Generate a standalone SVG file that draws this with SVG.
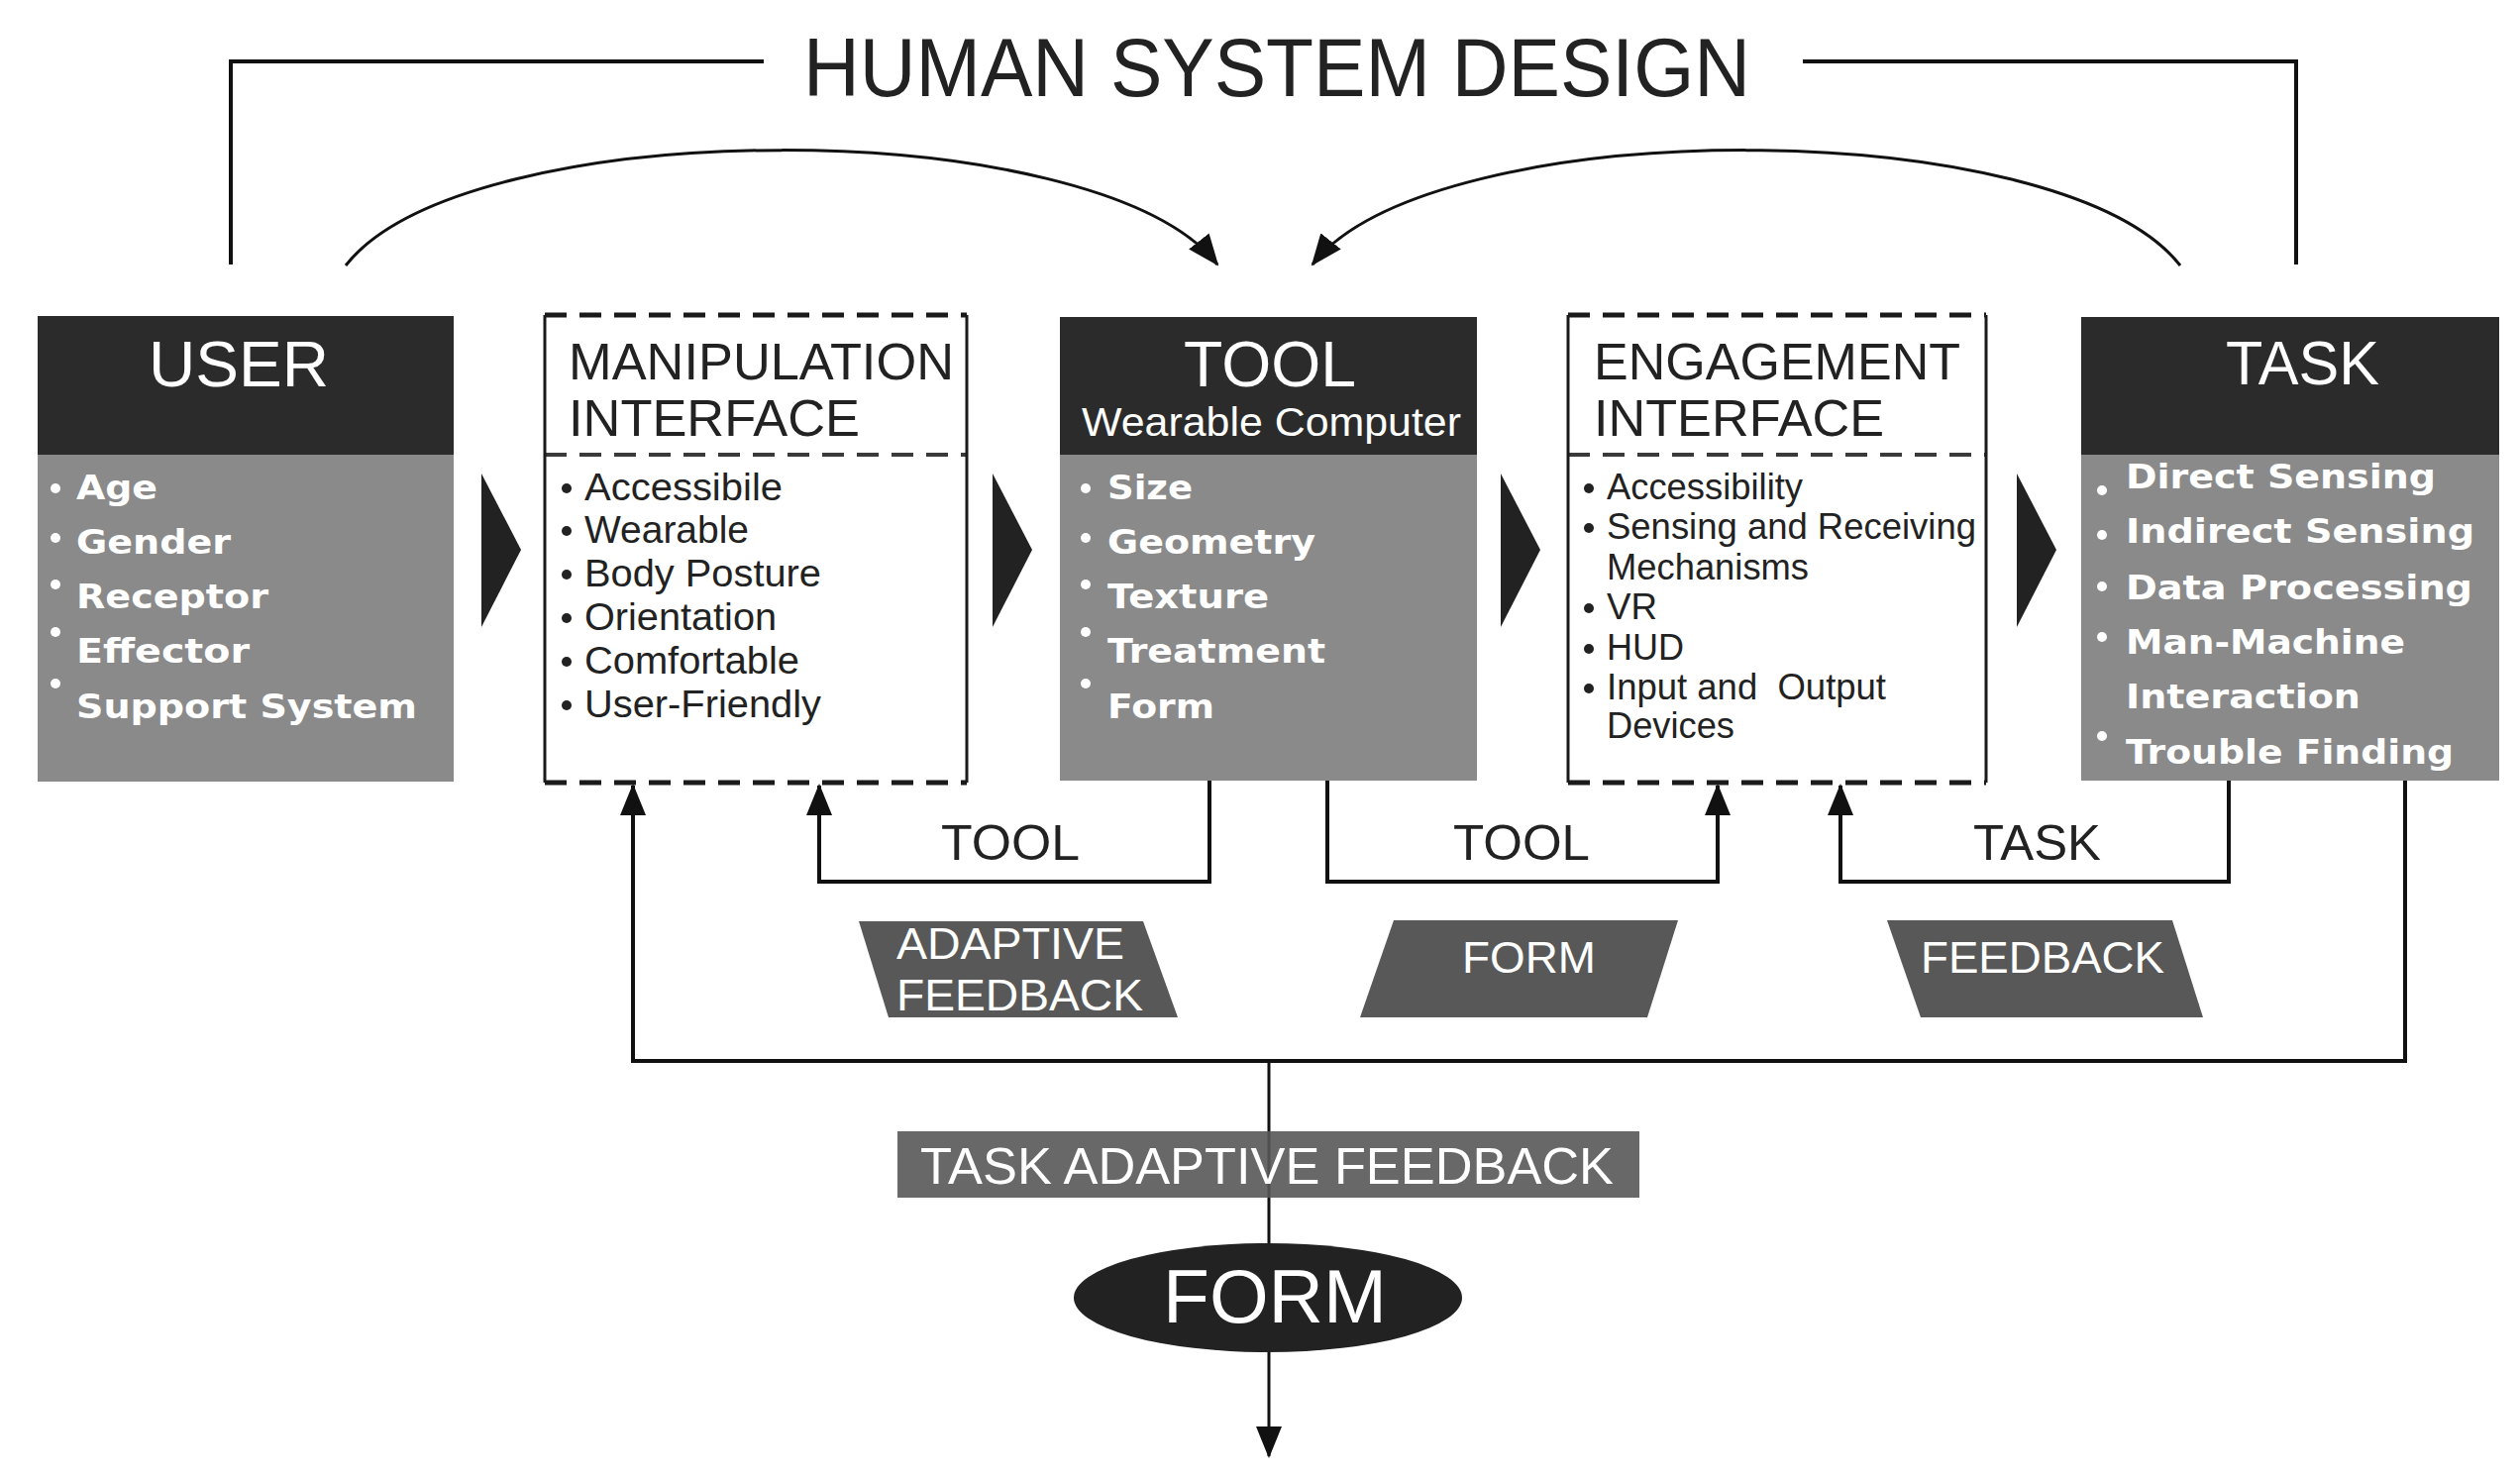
<svg xmlns="http://www.w3.org/2000/svg" width="2544" height="1493" viewBox="0 0 2544 1493">
<defs>
<style>
.hdr{fill:#2b2b2b}
.body{fill:#8a8a8a}
.ttl{font-family:"Liberation Sans",Arial,sans-serif;fill:#fff}
.dk{font-family:"Liberation Sans",Arial,sans-serif;fill:#222}
.wb{font-family:"DejaVu Sans","Liberation Sans",sans-serif;font-weight:bold;fill:#fff;font-size:34px}
.it{font-family:"Liberation Sans",Arial,sans-serif;fill:#222;font-size:38px}
.it2{font-family:"Liberation Sans",Arial,sans-serif;fill:#222;font-size:36px}
.wt{font-family:"Liberation Sans",Arial,sans-serif;fill:#fff}
.dash{fill:none;stroke:#1a1a1a;stroke-width:5;stroke-dasharray:22 13}
.dashg{fill:none;stroke:#3a3a3a;stroke-width:4;stroke-dasharray:22 13}
.side{fill:none;stroke:#1a1a1a;stroke-width:3}
.ln{fill:none;stroke:#111;stroke-width:4}
.ln3{fill:none;stroke:#111;stroke-width:3}
.chev{fill:#222}
.para{fill:#585858}
.wdot{fill:#fff}
.kdot{fill:#222}
</style>
<marker id="ah" markerUnits="userSpaceOnUse" markerWidth="32" markerHeight="26" viewBox="0 0 32 26" refX="30" refY="13" orient="auto">
<path d="M0,0 L32,13 L0,26 Z" fill="#111"/>
</marker>
</defs>
<rect width="2544" height="1493" fill="#fff"/>

<g id="connectors">
<path class="ln" d="M233,267 V62 H771"/>
<path class="ln" d="M1820,62 H2318 V267"/>
<path class="ln3" d="M349,268 C471,113 1107,113 1229,267" marker-end="url(#ah)"/>
<path class="ln3" d="M2201,268 C2079,113 1446,113 1325,267" marker-end="url(#ah)"/>
<path class="ln" d="M1221,788 V890 H827 V793" marker-end="url(#ah)"/>
<path class="ln" d="M1340,788 V890 H1734 V793" marker-end="url(#ah)"/>
<path class="ln" d="M2250,788 V890 H1858 V793" marker-end="url(#ah)"/>
<path class="ln" d="M2428,788 V1071 H639 V793" marker-end="url(#ah)"/>
<path class="ln3" d="M1281,1071 V1470" marker-end="url(#ah)"/>
<polygon class="chev" points="486,478 526,555 486,633"/>
<polygon class="chev" points="1002,478 1042,555 1002,633"/>
<polygon class="chev" points="1515,478 1555,555 1515,633"/>
<polygon class="chev" points="2036,478 2076,555 2036,633"/>
</g>

<g id="title">
<text class="dk" x="811" y="97" font-size="84" textLength="956" lengthAdjust="spacingAndGlyphs">HUMAN SYSTEM DESIGN</text>
</g>

<g id="user">
<rect class="hdr" x="38" y="319" width="420" height="140"/>
<rect class="body" x="38" y="459" width="420" height="330"/>
<text class="ttl" x="150" y="390" font-size="65" textLength="182" lengthAdjust="spacingAndGlyphs">USER</text>
<circle class="wdot" cx="56" cy="493" r="5"/>
<circle class="wdot" cx="56" cy="543" r="5"/>
<circle class="wdot" cx="56" cy="590" r="5"/>
<circle class="wdot" cx="56" cy="638" r="5"/>
<circle class="wdot" cx="56" cy="690" r="5"/>
<text class="wb" x="77" y="504" textLength="82" lengthAdjust="spacingAndGlyphs">Age</text>
<text class="wb" x="77" y="559" textLength="156" lengthAdjust="spacingAndGlyphs">Gender</text>
<text class="wb" x="77" y="614" textLength="194" lengthAdjust="spacingAndGlyphs">Receptor</text>
<text class="wb" x="77" y="669" textLength="175" lengthAdjust="spacingAndGlyphs">Effector</text>
<text class="wb" x="77" y="725" textLength="344" lengthAdjust="spacingAndGlyphs">Support System</text>
</g>

<g id="manipulation-interface">
<rect x="550" y="318" width="426" height="472" fill="#fff"/>
<path class="dash" d="M550,318 H976 M550,790 H976"/>
<path class="dashg" d="M550,459 H976"/>
<path class="side" d="M550,318 V790 M976,318 V790"/>
<text class="dk" x="574" y="383" font-size="52" textLength="389" lengthAdjust="spacingAndGlyphs">MANIPULATION</text>
<text class="dk" x="574" y="440" font-size="52" textLength="294" lengthAdjust="spacingAndGlyphs">INTERFACE</text>
<circle class="kdot" cx="572" cy="493" r="5"/>
<circle class="kdot" cx="572" cy="536" r="5"/>
<circle class="kdot" cx="572" cy="580" r="5"/>
<circle class="kdot" cx="572" cy="624" r="5"/>
<circle class="kdot" cx="572" cy="668" r="5"/>
<circle class="kdot" cx="572" cy="712" r="5"/>
<text class="it" x="590" y="505" textLength="200" lengthAdjust="spacingAndGlyphs">Accessibile</text>
<text class="it" x="590" y="548" textLength="166" lengthAdjust="spacingAndGlyphs">Wearable</text>
<text class="it" x="590" y="592" textLength="239" lengthAdjust="spacingAndGlyphs">Body Posture</text>
<text class="it" x="590" y="636" textLength="194" lengthAdjust="spacingAndGlyphs">Orientation</text>
<text class="it" x="590" y="680" textLength="217" lengthAdjust="spacingAndGlyphs">Comfortable</text>
<text class="it" x="590" y="724" textLength="239" lengthAdjust="spacingAndGlyphs">User-Friendly</text>
</g>

<g id="tool">
<rect class="hdr" x="1070" y="320" width="421" height="139"/>
<rect class="body" x="1070" y="459" width="421" height="329"/>
<text class="ttl" x="1195" y="390" font-size="65" textLength="174" lengthAdjust="spacingAndGlyphs">TOOL</text>
<text class="ttl" x="1092" y="440" font-size="40" textLength="383" lengthAdjust="spacingAndGlyphs">Wearable Computer</text>
<circle class="wdot" cx="1096" cy="493" r="5"/>
<circle class="wdot" cx="1096" cy="543" r="5"/>
<circle class="wdot" cx="1096" cy="590" r="5"/>
<circle class="wdot" cx="1096" cy="638" r="5"/>
<circle class="wdot" cx="1096" cy="690" r="5"/>
<text class="wb" x="1118" y="504" textLength="86" lengthAdjust="spacingAndGlyphs">Size</text>
<text class="wb" x="1118" y="559" textLength="210" lengthAdjust="spacingAndGlyphs">Geometry</text>
<text class="wb" x="1118" y="614" textLength="163" lengthAdjust="spacingAndGlyphs">Texture</text>
<text class="wb" x="1118" y="669" textLength="220" lengthAdjust="spacingAndGlyphs">Treatment</text>
<text class="wb" x="1118" y="725" textLength="108" lengthAdjust="spacingAndGlyphs">Form</text>
</g>

<g id="engagement-interface">
<rect x="1583" y="318" width="422" height="472" fill="#fff"/>
<path class="dash" d="M1583,318 H2005 M1583,790 H2005"/>
<path class="dashg" d="M1583,459 H2005"/>
<path class="side" d="M1583,318 V790 M2005,318 V790"/>
<text class="dk" x="1609" y="383" font-size="52" textLength="370" lengthAdjust="spacingAndGlyphs">ENGAGEMENT</text>
<text class="dk" x="1609" y="440" font-size="52" textLength="293" lengthAdjust="spacingAndGlyphs">INTERFACE</text>
<circle class="kdot" cx="1604" cy="493" r="5"/>
<circle class="kdot" cx="1604" cy="533" r="5"/>
<circle class="kdot" cx="1604" cy="614" r="5"/>
<circle class="kdot" cx="1604" cy="655" r="5"/>
<circle class="kdot" cx="1604" cy="695" r="5"/>
<text class="it2" x="1622" y="504" textLength="198" lengthAdjust="spacingAndGlyphs">Accessibility</text>
<text class="it2" x="1622" y="544" textLength="373" lengthAdjust="spacingAndGlyphs">Sensing and Receiving</text>
<text class="it2" x="1622" y="585" textLength="204" lengthAdjust="spacingAndGlyphs">Mechanisms</text>
<text class="it2" x="1622" y="625" textLength="51" lengthAdjust="spacingAndGlyphs">VR</text>
<text class="it2" x="1622" y="666" textLength="78" lengthAdjust="spacingAndGlyphs">HUD</text>
<text class="it2" x="1622" y="706" textLength="282" lengthAdjust="spacingAndGlyphs" xml:space="preserve">Input and  Output</text>
<text class="it2" x="1622" y="745" textLength="129" lengthAdjust="spacingAndGlyphs">Devices</text>
</g>

<g id="task">
<rect class="hdr" x="2101" y="320" width="422" height="139"/>
<rect class="body" x="2101" y="459" width="422" height="329"/>
<text class="ttl" x="2247" y="388" font-size="63" textLength="155" lengthAdjust="spacingAndGlyphs">TASK</text>
<circle class="wdot" cx="2122" cy="495" r="5"/>
<circle class="wdot" cx="2122" cy="540" r="5"/>
<circle class="wdot" cx="2122" cy="592" r="5"/>
<circle class="wdot" cx="2122" cy="643" r="5"/>
<circle class="wdot" cx="2122" cy="743" r="5"/>
<text class="wb" x="2146" y="493" textLength="313" lengthAdjust="spacingAndGlyphs">Direct Sensing</text>
<text class="wb" x="2146" y="548" textLength="352" lengthAdjust="spacingAndGlyphs">Indirect Sensing</text>
<text class="wb" x="2146" y="605" textLength="350" lengthAdjust="spacingAndGlyphs">Data Processing</text>
<text class="wb" x="2146" y="660" textLength="282" lengthAdjust="spacingAndGlyphs">Man-Machine</text>
<text class="wb" x="2146" y="715" textLength="237" lengthAdjust="spacingAndGlyphs">Interaction</text>
<text class="wb" x="2146" y="771" textLength="331" lengthAdjust="spacingAndGlyphs">Trouble Finding</text>
</g>

<g id="label-tool-1">
<text class="dk" x="950" y="868" font-size="50" textLength="140" lengthAdjust="spacingAndGlyphs">TOOL</text>
</g>
<g id="label-tool-2">
<text class="dk" x="1467" y="868" font-size="50" textLength="138" lengthAdjust="spacingAndGlyphs">TOOL</text>
</g>
<g id="label-task">
<text class="dk" x="1992" y="868" font-size="50" textLength="129" lengthAdjust="spacingAndGlyphs">TASK</text>
</g>

<g id="adaptive-feedback">
<polygon class="para" points="867,930 1154,930 1189,1027 897,1027"/>
<text class="wt" x="905" y="968" font-size="44" textLength="230" lengthAdjust="spacingAndGlyphs">ADAPTIVE</text>
<text class="wt" x="905" y="1020" font-size="44" textLength="249" lengthAdjust="spacingAndGlyphs">FEEDBACK</text>
</g>

<g id="form-label">
<polygon class="para" points="1407,929 1694,929 1663,1027 1373,1027"/>
<text class="wt" x="1476" y="982" font-size="45" textLength="135" lengthAdjust="spacingAndGlyphs">FORM</text>
</g>

<g id="feedback-label">
<polygon class="para" points="1905,929 2193,929 2224,1027 1939,1027"/>
<text class="wt" x="1939" y="982" font-size="45" textLength="246" lengthAdjust="spacingAndGlyphs">FEEDBACK</text>
</g>

<g id="task-adaptive-feedback">
<rect x="906" y="1142" width="749" height="67" fill="#585858" fill-opacity="0.9"/>
<text class="wt" x="929" y="1195" font-size="52" textLength="700" lengthAdjust="spacingAndGlyphs">TASK ADAPTIVE FEEDBACK</text>
</g>

<g id="form">
<ellipse cx="1280" cy="1310" rx="196" ry="55" fill="#222"/>
<text class="wt" x="1174" y="1335" font-size="76" textLength="226" lengthAdjust="spacingAndGlyphs">FORM</text>
</g>
</svg>
